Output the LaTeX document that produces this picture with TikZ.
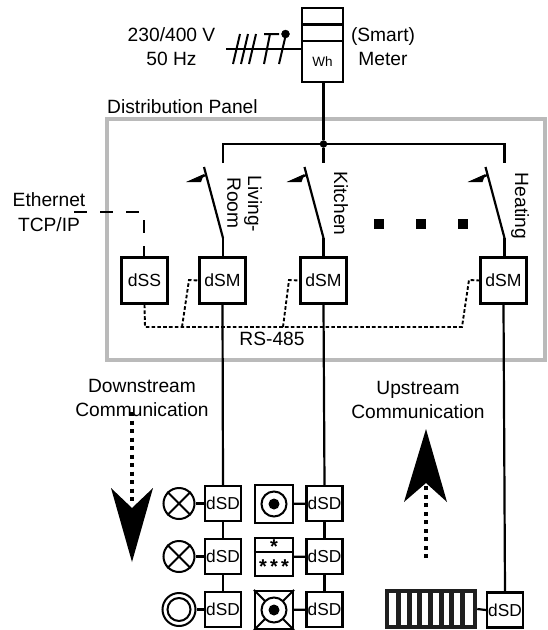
\documentclass[tikz,border=0pt]{standalone}
\usepackage{fontspec}
\setmainfont{Liberation Sans}
\usetikzlibrary{arrows.meta}
\tikzset{
  wire/.style={line width=2.2pt,line cap=butt},
  busdash/.style={line width=1.9pt,dash pattern=on 3.6pt off 2.2pt},
  ethdash/.style={line width=2pt,dash pattern=on 13pt off 13pt},
  unitbox/.style={draw,line width=2.2pt,minimum width=46pt,minimum height=46pt,inner sep=0pt,font=\fontsize{17.6}{18}\selectfont},
  sdbox/.style={draw,line width=2.2pt,minimum width=36pt,minimum height=35pt,inner sep=0pt,font=\fontsize{17.3}{18}\selectfont},
  lbl/.style={inner sep=0pt,align=center,font=\fontsize{19.2}{24.5}\selectfont},
  rotlbl/.style={inner sep=0pt,rotate=-90,font=\fontsize{19.2}{20}\selectfont},
  devsq/.style={draw,line width=2.2pt,minimum width=38pt,minimum height=38pt,inner sep=0pt},
  lamp/.style={draw,circle,line width=2pt,minimum size=31pt,inner sep=0pt},
  bigdots/.style={line width=4pt,dash pattern=on 4pt off 4.5pt},
  ptick/.style={line width=2pt},
  dotsq/.style={fill=black,minimum size=10pt,inner sep=0pt},
  star/.style={inner sep=0pt,font=\bfseries\fontsize{20}{20}\selectfont},
}
\begin{document}
\begin{tikzpicture}[x=1pt,y=-1pt]
\useasboundingbox (0,0) rectangle (547,630);
% panel
\node[draw=black!27,line width=4pt,minimum width=438pt,minimum height=241pt,inner sep=0pt] (panel) at (326,239.5) {};
% meter
\node[draw,line width=2.2pt,minimum width=41pt,minimum height=74pt,inner sep=0pt] (meter) at (322.5,45) {};
\draw[wire] (meter.west |- 0,24.5) -- (meter.east |- 0,24.5);
\draw[wire] (meter.west |- 0,41) -- (meter.east |- 0,41);
\node[inner sep=0pt,font=\fontsize{13.5}{14}\selectfont] (wh) at (322.5,62) {Wh};
% supply
\coordinate (supply) at (226,49);
\draw[wire] (supply) -- (meter.west |- supply);
\draw[ptick] (233,64) -- (240,34) (241,64) -- (248,34) (249,64) -- (256,34);
\draw[ptick] (264,64) -- (270,34) (264,34) -- (279,34);
\draw[ptick] (279,64) -- (286,34);
\node[draw,fill=black,circle,minimum size=8pt,inner sep=0pt] (ndot) at (285.5,34) {};
\node[lbl] (volt) at (171.5,46.5) {230/400 V\\50 Hz};
\node[lbl] (mlabel) at (383,46.5) {(Smart)\\Meter};
\node[lbl,anchor=west] (dp) at (107,106.5) {Distribution Panel};
% bus
\node[draw,fill=black,circle,minimum size=7pt,inner sep=0pt] (junction) at (323.5,144) {};
\coordinate (busL) at (223,144);
\coordinate (busR) at (504.5,144);
\coordinate (stubL) at (223,163);
\coordinate (stubR) at (504.5,163);
\coordinate (stubM) at (323.5,163);
\draw[wire] (meter.south -| junction) -- (junction);
\draw[wire] (stubL) -- (busL) -- (busR) -- (stubR);
\draw[wire] (junction) -- (stubM);
% units
\node[unitbox] (dss) at (144.5,280.5) {dSS};
\node[unitbox] (dsm1) at (222.5,280.5) {dSM};
\node[unitbox] (dsm2) at (323.5,280.5) {dSM};
\node[unitbox] (dsm3) at (503.5,280.5) {dSM};
% switches
\foreach \n/\x in {a/223,b/323.5,c/504.5}{
  \coordinate (pivot\n) at (\x,238);
  \coordinate (blade\n) at (\x-19,167);
  \coordinate (tip\n) at (\x-37,182);
  \coordinate (barb\n) at (\x-17,175);
  \draw[wire] (pivot\n) -- (blade\n);
  \fill (tip\n) -- (\x-19,174) -- (\x-22,182) -- cycle;
  \draw[line width=2pt] (\x-24,178) -- (barb\n);
}
\draw[wire] (pivota) -- (pivota |- dsm1.north);
\draw[wire] (pivotb) -- (pivotb |- dsm2.north);
\draw[wire] (pivotc) -- (pivotc |- dsm3.north);
\node[rotlbl] (living) at (253,204) {Living-};
\node[rotlbl] (room) at (234,203) {Room};
\node[rotlbl] (kitchen) at (341,203.5) {Kitchen};
\node[rotlbl] (heating) at (520,206) {Heating};
% ellipsis
\node[dotsq] (d1) at (379,224) {};
\node[dotsq] (d2) at (421,224) {};
\node[dotsq] (d3) at (463,224) {};
% rs485
\coordinate (rsA) at (145,327);
\coordinate (rsB) at (182,327);
\coordinate (rsC) at (283,327);
\coordinate (rsD) at (462,327);
\draw[busdash] (dss.south) -- (rsA) -- (rsD) -- (469,280) -- (dsm3.west);
\draw[busdash] (rsB) -- (189,280) -- (dsm1.west);
\draw[busdash] (rsC) -- (289,280) -- (dsm2.west);
\node[lbl,fill=none] (rs) at (272,338.5) {RS-485};
% ethernet
\node[lbl] (eth) at (49,212) {Ethernet\\TCP/IP};
\coordinate (ethA) at (74,212);
\coordinate (ethB) at (144,212);
\draw[ethdash] (ethA) -- (ethB) -- (ethB |- dss.north);
% dSD
\foreach \n/\y in {1/503.5,2/556.5,3/609.5}{
  \node[sdbox] (sa\n) at (223,\y) {dSD};
  \node[sdbox] (sb\n) at (324.5,\y) {dSD};
}
\node[sdbox] (sc) at (505,610) {dSD};
\draw[wire] (dsm1.south) -- (sa1.north);
\draw[wire] (dsm2.south) -- (sb1.north);
\draw[wire] (dsm3.south) -- (sc.north);
\draw[wire] (sa1) -- (sa2);
\draw[wire] (sa2) -- (sa3);
\draw[wire] (sb1) -- (sb2);
\draw[wire] (sb2) -- (sb3);
% lamps
\node[lamp] (l1) at (179,503.5) {};
\node[lamp] (l2) at (179,556.5) {};
\node[lamp,minimum size=33pt] (l3) at (179,609.5) {};
\node[draw,circle,line width=2pt,minimum size=23pt,inner sep=0pt] (l3i) at (179,609.5) {};
\foreach \l in {l1,l2}{
  \draw[line width=2pt] (\l.north east) -- (\l.south west) (\l.north west) -- (\l.south east);
}
\draw[wire] (l1) -- (sa1);
\draw[wire] (l2) -- (sa2);
\draw[wire] (l3) -- (sa3);
% devices column 2
\node[devsq] (dv1) at (274,504) {};
\node[draw,circle,line width=2pt,minimum size=25pt,inner sep=0pt] (dv1c) at (274,504) {};
\node[fill=black,circle,minimum size=11pt,inner sep=0pt] (dv1d) at (274,504) {};
\draw[wire] (dv1) -- (sb1);
\node[devsq] (dv2) at (274,557) {};
\draw[wire] (dv2.west |- 0,552) -- (dv2.east |- 0,552);
\node[star] (st0) at (274,547) {*};
\node[star] (st1) at (263,567) {*};
\node[star] (st2) at (274,567) {*};
\node[star] (st3) at (285,567) {*};
\draw[wire] (dv2) -- (sb2);
\node[devsq] (dv3) at (274,610) {};
\draw[line width=2pt] (dv3.north west) -- (dv3.south east) (dv3.north east) -- (dv3.south west);
\node[draw,fill=white,circle,line width=2pt,minimum size=25pt,inner sep=0pt] (dv3c) at (274,610) {};
\node[fill=black,circle,minimum size=11pt,inner sep=0pt] (dv3d) at (274,610) {};
\draw[wire] (dv3) -- (sb3);
% radiator
\node[draw=black!88,line width=4.5pt,minimum width=88pt,minimum height=36pt,inner sep=0pt] (rad) at (431,609) {};
\foreach \i in {0,...,6}{
  \fill[black!88] (398.3+\i*10.7-2.5,589) rectangle (398.3+\i*10.7+2.5,629);
}
\draw[wire] (rad.east) -- (sc.west);
% text
\node[lbl] (down) at (142,398) {Downstream\\Communication};
\node[lbl] (up) at (418,400) {Upstream\\Communication};
% big arrows
\coordinate (dnA) at (132,412);
\coordinate (dnB) at (132,505);
\draw[bigdots] (dnA) -- (dnB);
\fill (132,562) -- (111,488) -- (132,508) -- (153,488) -- cycle;
\coordinate (upA) at (426,558);
\coordinate (upB) at (426,485);
\draw[bigdots] (upA) -- (upB);
\fill (426,429) -- (404,502) -- (426,483) -- (447,502) -- cycle;
\end{tikzpicture}
\end{document}
